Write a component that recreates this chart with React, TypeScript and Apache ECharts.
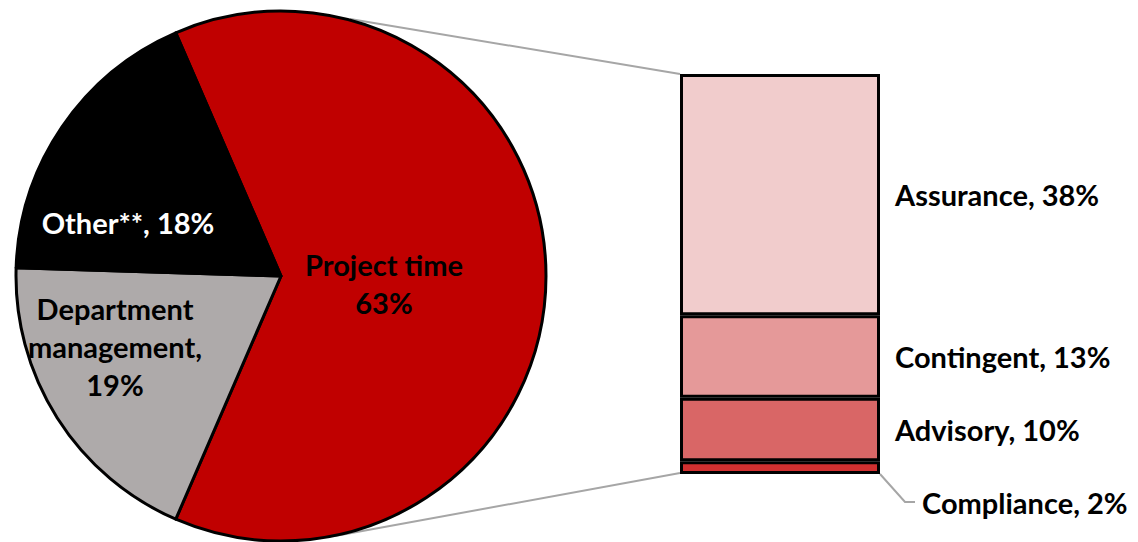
import React, { useEffect, useRef } from "react";
import * as echarts from "echarts";

const pieNames = ["Project time", "Department management", "Other**"];
const pieValues = [63, 19, 18];
const pieLabelTexts = ["Project time\n63%", "Department\nmanagement,\n19%", "Other**, 18%"];
const pieColors = ["#C00000", "#AEAAAA", "#000000"];
const pieLabelColors = ["#000000", "#000000", "#FFFFFF"];

const barNames = ["Compliance", "Advisory", "Contingent", "Assurance"];
const barValues = [2, 10, 13, 38];
const barColors = ["#D03030", "#D96666", "#E59999", "#F1CCCC"];

const FONT = "Lato";
const FS = 29;

export default function App() {
  const ref = useRef<HTMLDivElement>(null);
  useEffect(() => {
    if (!ref.current) return;
    const chart = echarts.init(ref.current, null, { renderer: "svg" });
    const pieLabelPos = [
      [384, 283],
      [115, 346],
      [128, 222],
    ];
    const barSeries = barNames.map((name, i) => ({
      name,
      type: "bar",
      stack: "total",
      barWidth: "100%",
      data: [barValues[i]],
      itemStyle: { color: barColors[i], borderColor: "#000", borderWidth: 3 },
      label: {
        show: true,
        position: "right",
        distance: 15,
        formatter: "{a}, {c}%",
        color: "#000",
        fontFamily: FONT,
        fontWeight: "bold",
        fontSize: FS,
      },
      labelLayout:
        i === 0
          ? () => ({ x: 922, y: 502, align: "left", verticalAlign: "middle" })
          : undefined,
      z: 3,
    }));
    chart.setOption({
      animation: false,
      backgroundColor: "#fff",
      grid: { left: 680, top: 74, width: 200, height: 400 },
      xAxis: { type: "category", data: [""], show: false },
      yAxis: { type: "value", min: 0, max: 63, show: false },
      graphic: [
        {
          type: "polyline",
          shape: { points: [[350, 19], [680, 74]] },
          style: { stroke: "#A6A6A6", lineWidth: 2, fill: null },
          z: 1,
        },
        {
          type: "polyline",
          shape: { points: [[335, 536], [680, 473]] },
          style: { stroke: "#A6A6A6", lineWidth: 2, fill: null },
          z: 1,
        },
        {
          type: "polyline",
          shape: { points: [[880, 474], [905, 502], [915, 502]] },
          style: { stroke: "#A6A6A6", lineWidth: 2, fill: null },
          z: 1,
        },
      ],
      series: [
        {
          type: "pie",
          center: [281, 276],
          radius: 265,
          startAngle: 113.4,
          clockwise: true,
          data: pieNames.map((n, i) => ({
            name: n,
            value: pieValues[i],
            itemStyle: { color: pieColors[i] },
            label: { color: pieLabelColors[i] },
          })),
          itemStyle: { borderColor: "#000", borderWidth: 3 },
          label: {
            show: true,
            position: "inside",
            formatter: (p: any) => pieLabelTexts[p.dataIndex],
            fontFamily: FONT,
            fontWeight: "bold",
            fontSize: FS,
            lineHeight: 38,
            align: "center",
          },
          labelLayout: (p: any) => ({
            x: pieLabelPos[p.dataIndex][0],
            y: pieLabelPos[p.dataIndex][1],
            align: "center",
            verticalAlign: "middle",
          }),
          emphasis: { disabled: true },
          z: 2,
        },
        ...barSeries,
      ],
    });
    return () => chart.dispose();
  }, []);
  return (
    <div
      ref={ref}
      style={{ position: "fixed", left: 0, top: 0, width: 1138, height: 542 }}
    />
  );
}
